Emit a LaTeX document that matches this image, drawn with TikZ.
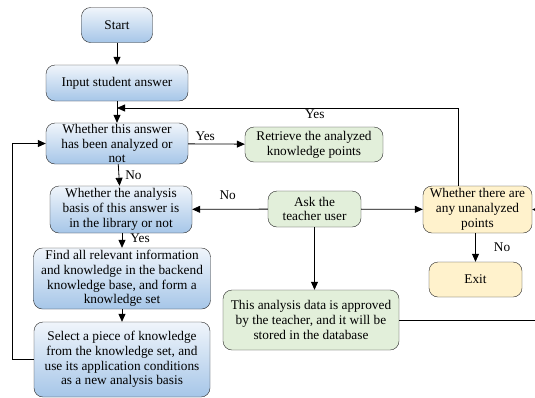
\documentclass[tikz,border=0pt]{standalone}
\usepackage{fontspec}
\setmainfont{Liberation Serif}
\usetikzlibrary{arrows.meta}
\definecolor{bluetop}{HTML}{F0F5FB}
\definecolor{bluebot}{HTML}{A6C6E8}
\definecolor{greenfill}{HTML}{E2EFDA}
\definecolor{yellowfill}{HTML}{FFF2CC}
\tikzset{
    box/.style={draw=black!85, rounded corners=9pt, align=center, inner sep=1pt, font=\fontsize{13.3}{14.8}\selectfont},
    bluebox/.style={box, top color=bluetop, bottom color=bluebot},
    greenbox/.style={box, fill=greenfill},
    yellowbox/.style={box, fill=yellowfill},
    flow/.style={-{Triangle[length=8pt,width=7pt]}, line width=0.8pt},
    lbl/.style={font=\fontsize{13.3}{14.8}\selectfont, inner sep=0pt}
}
\begin{document}
\begin{tikzpicture}[x=1pt, y=-1pt]
        \clip (0,0) rectangle (535,397);
        \fill[white] (0,0) rectangle (535,397);

        \node[bluebox, minimum width=71pt, minimum height=35pt] (start) at (117,25) {Start};
        \node[bluebox, minimum width=142pt, minimum height=36pt] (input) at (117,83) {Input student answer};
        \node[bluebox, minimum width=142pt, minimum height=41pt] (answered) at (117,143.5) {Whether this answer\\has been analyzed or\\not};
        \node[bluebox, minimum width=142pt, minimum height=47pt] (analysis) at (121,209.5) {Whether the analysis\\basis of this answer is\\in the library or not};
        \node[bluebox, minimum width=177pt, minimum height=61pt] (find) at (122,278.5) {Find all relevant information\\and knowledge in the backend\\knowledge base, and form a\\knowledge set};
        \node[bluebox, minimum width=176pt, minimum height=75pt] (select) at (122,359.5) {Select a piece of knowledge\\from the knowledge set, and\\use its application conditions\\as a new analysis basis};
        \node[greenbox, minimum width=138pt, minimum height=35pt] (retrieve) at (314,144.5) {Retrieve the analyzed\\knowledge points};
        \node[greenbox, minimum width=93pt, minimum height=36pt] (ask) at (314.5,209) {Ask the\\teacher user};
        \node[greenbox, minimum width=176pt, minimum height=60pt] (db) at (311,320) {This analysis data is approved\\by the teacher, and it will be\\stored in the database};
        \node[yellowbox, minimum width=109pt, minimum height=47pt] (points) at (477.5,209.5) {Whether there are\\any unanalyzed\\points};
        \node[yellowbox, minimum width=93pt, minimum height=35pt] (exit) at (475.5,279.5) {Exit};
        \coordinate (merge) at (117,108);

        \draw [flow] (start) -- (input);
        \draw [flow] (input) -- (answered);
        \draw [flow] (answered) -- (retrieve) node[lbl, pos=0.3, above=3pt] {Yes};
        \draw [flow] (answered) -- (analysis) node[lbl, midway, right=6pt] {No};
        \draw [flow] (ask) -- (analysis) node[lbl, pos=0.53, above=9pt] {No};
        \draw [flow] (ask) -- (points);
        \draw [flow] (ask.south) -- (ask.south |- db.north);
        \draw [flow] (points.south -| exit.north) -- (exit) node[lbl, midway, right=18pt] {No};
        \draw [flow] (points.north -| 458,0) |- (merge) node[lbl, pos=0.71, below=1pt] {Yes};
        \draw [flow] (analysis.south -| find.north) -- (find) node[lbl, pos=0.35, right=8pt] {Yes};
        \draw [flow] (find) -- (select);
        \draw [flow] (select.west) -- ++(-21,0) |- (answered.west);
        \draw [flow] (db.east) -- ++(160,0) |- (points.east);
\end{tikzpicture}
\end{document}
